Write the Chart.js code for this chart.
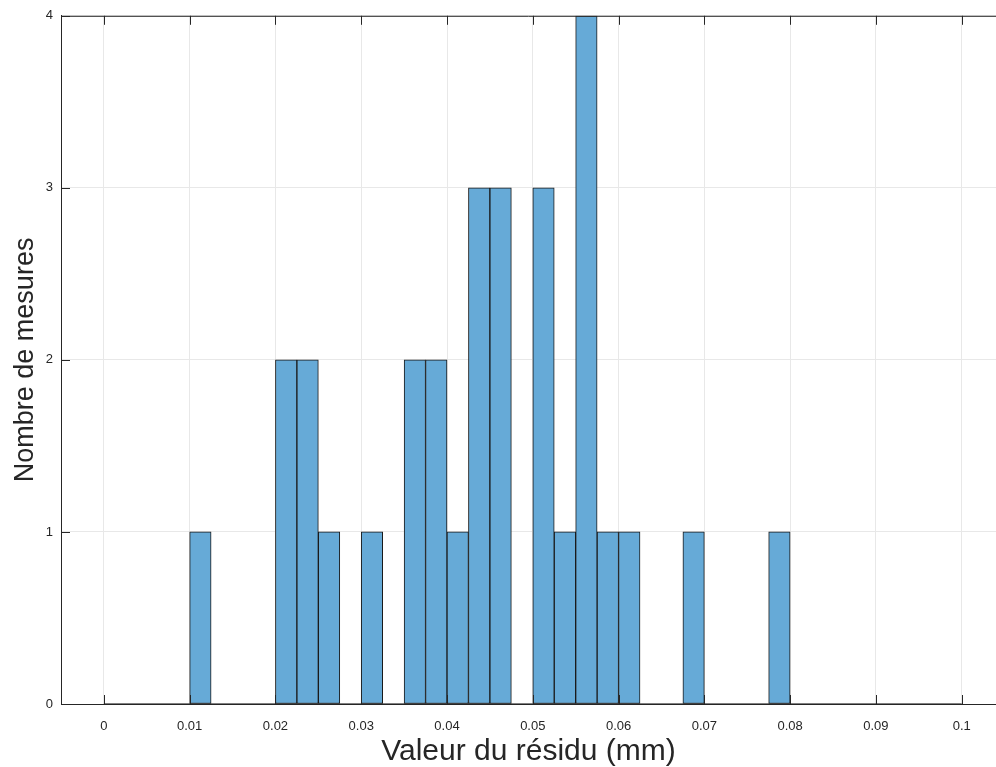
<!DOCTYPE html>
<html>
<head>
<meta charset="utf-8">
<script src="https://cdn.jsdelivr.net/npm/chart.js@4"></script>
<style>
  html, body { margin: 0; padding: 0; background: #fff; overflow: hidden; }
</style>
</head>
<body>
<canvas id="histChart" width="996" height="767"></canvas>
<script>
// histogramme : 40 classes de 0.0025 mm entre 0 et 0.1
const binWidth = 0.0025;
const binStarts = Array.from({ length: 40 }, (_, i) => +(i * binWidth).toFixed(4));
const counts = [
    0, 0, 0, 0, 1, 0, 0, 0, 2, 2,
    1, 0, 1, 0, 2, 2, 1, 3, 3, 0,
    3, 1, 4, 1, 1, 0, 0, 1, 0, 0,
    0, 1, 0, 0, 0, 0, 0, 0, 0, 0
];
const xTickValues = [0, 0.01, 0.02, 0.03, 0.04, 0.05, 0.06, 0.07, 0.08, 0.09, 0.1];
const xTickLabels = ['0', '0.01', '0.02', '0.03', '0.04', '0.05', '0.06', '0.07', '0.08', '0.09', '0.1'];
const yTickLabels = ['0', '1', '2', '3', '4'];

const axisColor = '#262626';
const gridColor = '#e8e8e8';
const fontFamily = '"Liberation Sans", Arial, Helvetica, sans-serif';

const barPoints = binStarts.map((s, i) => ({ x: s + binWidth / 2, y: counts[i] }));
const lastEdge = binStarts[binStarts.length - 1] + binWidth;
const baseLine = [{ x: binStarts[0], y: 0 }, { x: lastEdge, y: 0 }];

// petits traits de graduation vers l'interieur + bord du haut
const innerTicks = {
    id: 'innerTicks',
    afterDatasetsDraw(chart) {
        const { ctx, chartArea, scales } = chart;
        ctx.save();
        ctx.strokeStyle = axisColor;
        ctx.lineWidth = 1;
        ctx.beginPath();
        ctx.moveTo(chartArea.left, chartArea.top + 0.5);
        ctx.lineTo(chartArea.right, chartArea.top + 0.5);
        xTickValues.forEach(v => {
            const px = Math.round(scales.x.getPixelForValue(v)) + 0.5;
            ctx.moveTo(px, chartArea.bottom);
            ctx.lineTo(px, chartArea.bottom - 9);
            ctx.moveTo(px, chartArea.top);
            ctx.lineTo(px, chartArea.top + 9);
        });
        yTickLabels.forEach((_, v) => {
            const py = Math.round(scales.y.getPixelForValue(v)) + 0.5;
            ctx.moveTo(chartArea.left, py);
            ctx.lineTo(chartArea.left + 9, py);
        });
        ctx.stroke();
        ctx.restore();
    }
};

const ctx = document.getElementById('histChart').getContext('2d');
const histChart = new Chart(ctx, {
    type: 'bar',
    data: {
        datasets: [
            {
                type: 'line',
                data: baseLine,
                borderColor: '#000',
                borderWidth: 1,
                pointRadius: 0,
                order: 0
            },
            {
                data: barPoints,
                backgroundColor: 'rgb(102, 170, 215)',
                borderColor: '#1a1a1a',
                borderWidth: 1,
                borderSkipped: false,
                barPercentage: 1,
                categoryPercentage: 1,
                order: 1
            }
        ]
    },
    options: {
        responsive: false,
        animation: false,
        devicePixelRatio: 1,
        layout: { padding: { top: 15, right: 0, left: 0, bottom: 0 } },
        plugins: {
            legend: { display: false },
            tooltip: { enabled: false }
        },
        scales: {
            x: {
                type: 'linear',
                min: -0.005,
                max: 0.104,
                offset: false,
                afterBuildTicks: scale => {
                    scale.ticks = xTickValues.map(v => ({ value: v }));
                },
                afterFit: scale => { scale.height = 63; },
                grid: { color: gridColor, drawTicks: false, offset: false },
                border: { color: axisColor, width: 1 },
                ticks: {
                    padding: 15,
                    color: axisColor,
                    maxRotation: 0,
                    autoSkip: false,
                    font: { family: fontFamily, size: 13 },
                    callback: (v, i) => xTickLabels[i]
                },
                title: {
                    display: true,
                    text: 'Valeur du résidu (mm)',
                    color: axisColor,
                    padding: { top: 0, bottom: 0 },
                    font: { family: fontFamily, size: 30, lineHeight: 1 }
                }
            },
            y: {
                min: 0,
                max: 4,
                afterFit: scale => { scale.width = 61; },
                grid: { color: gridColor, drawTicks: false },
                border: { color: axisColor, width: 1 },
                ticks: {
                    stepSize: 1,
                    padding: 8,
                    color: axisColor,
                    font: { family: fontFamily, size: 13 },
                    callback: v => yTickLabels[v]
                },
                title: {
                    display: true,
                    text: 'Nombre de mesures',
                    color: axisColor,
                    padding: { top: 12, bottom: 0 },
                    font: { family: fontFamily, size: 27, lineHeight: 1 }
                }
            }
        }
    },
    plugins: [innerTicks]
});
</script>
</body>
</html>
